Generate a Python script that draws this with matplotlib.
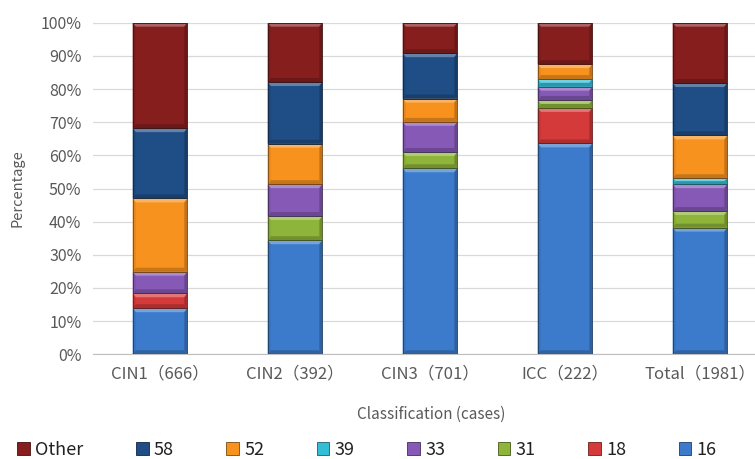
import numpy as np
import matplotlib
matplotlib.use("Agg")
import matplotlib.pyplot as plt
from matplotlib.patches import Polygon, Patch
from matplotlib.ticker import FuncFormatter
import matplotlib.colors as mcolors

plt.rcParams['font.family'] = ['Noto Sans CJK SC', 'DejaVu Sans']

groups = ["CIN1（666）", "CIN2（392）", "CIN3（701）", "ICC（222）", "Total（1981）"]
types = ["16", "18", "31", "33", "39", "52", "58", "Other"]

# genotype share (%) per group, bottom to top
hpv16 = [13.9, 34.4, 56.1, 63.6, 38.2]
hpv18 = [4.5, 0.0, 0.0, 10.7, 0.0]
hpv31 = [0.0, 7.3, 4.9, 2.4, 5.0]
hpv33 = [6.5, 9.6, 9.1, 4.0, 8.1]
hpv39 = [0.0, 0.0, 0.0, 2.3, 1.8]
hpv52 = [22.1, 12.2, 7.0, 4.5, 12.9]
hpv58 = [21.2, 18.6, 13.7, 0.0, 15.8]
other = [31.8, 17.9, 9.2, 12.5, 18.2]
series = [hpv16, hpv18, hpv31, hpv33, hpv39, hpv52, hpv58, other]

colors = ["#3C7BCB", "#D53A3A", "#8EB43A", "#8659B6", "#33BED6",
          "#F7921F", "#1F4D85", "#861E1E"]


def shade(c, f):
    r, g, b = mcolors.to_rgb(c)
    if f > 1:
        return (r + (1 - r) * (f - 1), g + (1 - g) * (f - 1), b + (1 - b) * (f - 1))
    return (r * f, g * f, b * f)


def bevel(ax, rect, color):
    x0, y0 = rect.get_x(), rect.get_y()
    w, h = rect.get_width(), rect.get_height()
    if h <= 0:
        return
    x1, y1 = x0 + w, y0 + h
    dx = 0.022
    dy = min(1.2, h / 2)
    top = [(x0, y1), (x1, y1), (x1 - dx, y1 - dy), (x0 + dx, y1 - dy)]
    bot = [(x0, y0), (x1, y0), (x1 - dx, y0 + dy), (x0 + dx, y0 + dy)]
    left = [(x0, y0), (x0, y1), (x0 + dx, y1 - dy), (x0 + dx, y0 + dy)]
    right = [(x1, y0), (x1, y1), (x1 - dx, y1 - dy), (x1 - dx, y0 + dy)]
    for pts, f in [(top, 1.3), (bot, 0.8), (left, 0.92), (right, 0.78)]:
        ax.add_patch(Polygon(pts, closed=True, facecolor=shade(color, f),
                             edgecolor="none", zorder=3))
    ax.add_patch(plt.Rectangle((x0, y0), w, h, fill=False,
                               edgecolor=shade(color, 0.5), lw=0.6, zorder=4))


fig = plt.figure(figsize=(7.55, 4.59), dpi=100)
ax = fig.add_axes([92.5 / 755, 1 - 354.3 / 459, 675 / 755, 331.6 / 459])

x = np.arange(len(groups))
bottom = np.zeros(len(groups))
for vals, col in zip(series, colors):
    bars = ax.bar(x, vals, 0.405, bottom=bottom, color=col, zorder=2)
    for r in bars:
        bevel(ax, r, col)
    bottom += np.array(vals)

ax.set_xlim(-0.5, 4.5)
ax.set_ylim(0, 100)
ax.set_yticks(np.arange(0, 101, 10))
ax.yaxis.set_major_formatter(FuncFormatter(lambda v, p: "%d%%" % v))
ax.set_xticks(x)
ax.set_xticklabels(groups)
ax.grid(axis="y", color="#D9D9D9", lw=0.9, zorder=0)
for s in ["top", "right", "left"]:
    ax.spines[s].set_visible(False)
ax.spines["bottom"].set_color("#BFBFBF")
ax.tick_params(length=0, colors="#595959")
ax.tick_params(axis="x", pad=8, labelsize=12)
ax.tick_params(axis="y", pad=8, labelsize=11.5)

fig.text(18 / 755, 1 - 188 / 459, "Percentage", rotation=90, ha="center",
         va="center", color="#595959", fontsize=10.5)
fig.text(431 / 755, 1 - 414 / 459, "Classification (cases)", ha="center",
         va="center", color="#595959", fontsize=11)

handles = [Patch(facecolor=c, edgecolor=shade(c, 0.5), lw=0.6) for c in colors][::-1]
fig.legend(handles, types[::-1], loc="center left", ncol=8,
           bbox_to_anchor=(10 / 755, 1 - 450 / 459), frameon=False,
           fontsize=13, handlelength=0.7, handleheight=0.7,
           handletextpad=0.3, columnspacing=2.9, borderaxespad=0,
           labelcolor="#222222")

fig.savefig("out.png", dpi=100)
